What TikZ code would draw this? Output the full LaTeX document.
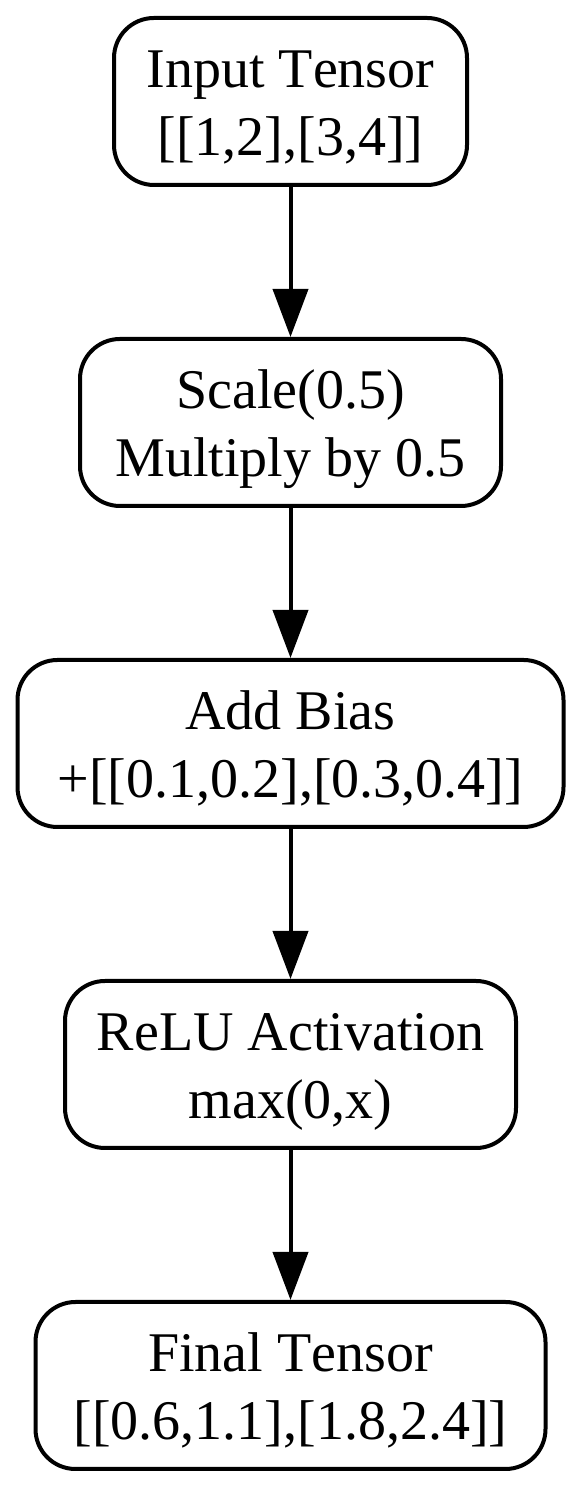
\documentclass[tikz,border=0pt]{standalone}
\usepackage{fontspec}
\setmainfont[Kerning=Off]{Liberation Serif}
\usetikzlibrary{arrows.meta}
\tikzset{
  box/.style={draw=black, line width=4pt, rounded corners=40pt, minimum height=167pt, inner sep=0pt},
  txt/.style={anchor=base, inner sep=0pt, font=\fontsize{56}{68}\selectfont},
  conn/.style={line width=4pt, -{Triangle[length=48pt,width=35pt]}}
}
\begin{document}
\begin{tikzpicture}[x=1pt,y=1pt]
\useasboundingbox (0,0) rectangle (581,1488);
\node[box, minimum width=353pt] (inp) at (290.5,1386.5) {};
\node[box, minimum width=421pt] (scl) at (290.5,1065.5) {};
\node[box, minimum width=546pt] (bias) at (290.5,744.5) {};
\node[box, minimum width=451pt] (relu) at (290.5,423.5) {};
\node[box, minimum width=510pt] (fin) at (290.5,102.5) {};
\node[txt] (inpA) at ([yshift=14pt]inp.center) {Input Tensor};
\node[txt] (inpB) at ([yshift=-54pt]inp.center) {[[1,2],[3,4]]};
\node[txt] (sclA) at ([yshift=14pt]scl.center) {Scale(0.5)};
\node[txt] (sclB) at ([yshift=-54pt]scl.center) {Multiply by 0.5};
\node[txt] (biasA) at ([yshift=14pt]bias.center) {Add Bias};
\node[txt] (biasB) at ([yshift=-54pt]bias.center) {+[[0.1,0.2],[0.3,0.4]]};
\node[txt] (reluA) at ([yshift=14pt]relu.center) {ReLU Activation};
\node[txt] (reluB) at ([yshift=-54pt]relu.center) {max(0,x)};
\node[txt] (finA) at ([yshift=14pt]fin.center) {Final Tensor};
\node[txt] (finB) at ([yshift=-54pt]fin.center) {[[0.6,1.1],[1.8,2.4]]};
\draw[conn] (inp) -- (scl);
\draw[conn] (scl) -- (bias);
\draw[conn] (bias) -- (relu);
\draw[conn] (relu) -- (fin);
\end{tikzpicture}
\end{document}
